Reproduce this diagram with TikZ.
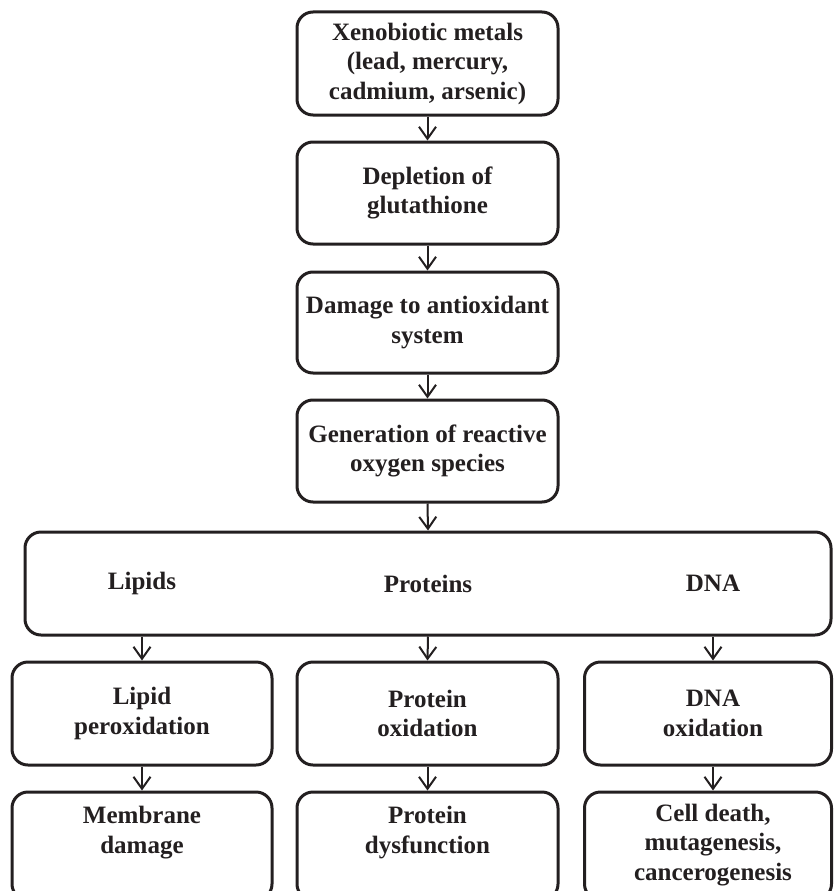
\documentclass[tikz,border=0pt]{standalone}
\usepackage{fontspec}
\setmainfont{Liberation Serif}
\usetikzlibrary{arrows.meta}
\definecolor{ink}{HTML}{231F20}
\begin{document}
\begin{tikzpicture}[x=1pt,y=-1pt,
  txt/.style={inner sep=0pt, align=center, text=ink, font=\bfseries\fontsize{25}{29.5}\selectfont},
  box/.style={txt, draw=ink, line width=3pt, rounded corners=16pt},
  arr/.style={draw=ink, line width=2pt, -{Straight Barb[length=12pt,width=17pt]}}]
\useasboundingbox (0,0) rectangle (833,891);
% main chain
\node[box, minimum width=261pt, minimum height=103pt] (b1) at (427.5,63.5) {Xenobiotic metals\\(lead, mercury,\\cadmium, arsenic)};
\node[box, minimum width=261pt, minimum height=102pt] (b2) at (427.5,193) {Depletion of\\glutathione};
\node[box, minimum width=261pt, minimum height=101pt] (b3) at (427.5,322.5) {Damage to antioxidant\\system};
\node[box, minimum width=261pt, minimum height=102pt] (b4) at (427.5,451) {Generation of reactive\\oxygen species};
% wide box
\node[box, minimum width=806pt, minimum height=103pt] (big) at (428,583.5) {};
\node[txt] (lip) at (142,583.5) {Lipids};
\node[txt] (pro) at (428,583.5) {Proteins};
\node[txt] (dnat) at (713,583.5) {DNA};
% first row
\node[box, minimum width=260pt, minimum height=103pt] (lp) at (142,713.5) {Lipid\\peroxidation};
\node[box, minimum width=261pt, minimum height=103pt] (po) at (427.5,713.5) {Protein\\oxidation};
\node[box, minimum width=247pt, minimum height=103pt] (dox) at (708,713.5) {};
\node[txt] (doxt) at (713,713.5) {DNA\\oxidation};
% second row
\node[box, minimum width=260pt, minimum height=108pt] (md) at (142,846) {};
\node[txt] (mdt) at (142,832.5) {Membrane\\damage};
\node[box, minimum width=261pt, minimum height=108pt] (pd) at (427.5,846) {};
\node[txt] (pdt) at (427.5,832.5) {Protein\\dysfunction};
\node[box, minimum width=247pt, minimum height=108pt] (cd) at (708,846) {};
\node[txt] (cdt) at (713,845) {Cell death,\\mutagenesis,\\cancerogenesis};
% arrows
\draw[arr] (b1.south) -- (b2.north);
\draw[arr] (b2.south) -- (b3.north);
\draw[arr] (b3.south) -- (b4.north);
\draw[arr] (b4.south) -- (big.north);
\draw[arr] (big.south -| lip) -- (lp.north);
\draw[arr] (big.south -| pro) -- (po.north);
\draw[arr] (big.south -| dnat) -- (dox.north -| dnat);
\draw[arr] (lp.south) -- (md.north);
\draw[arr] (po.south) -- (pd.north);
\draw[arr] (dox.south -| doxt) -- (cd.north -| doxt);
\end{tikzpicture}
\end{document}
